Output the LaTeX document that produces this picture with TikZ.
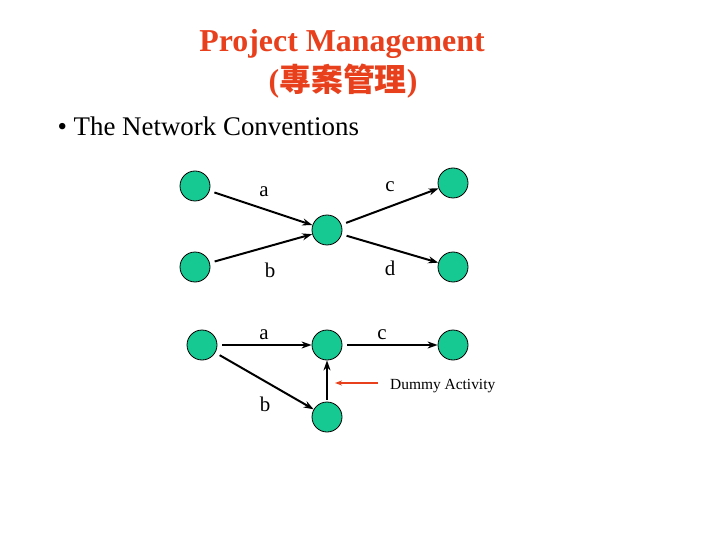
\documentclass[tikz,border=0pt]{standalone}
\usepackage{fontspec}
\setmainfont{Liberation Serif}
\newfontfamily\cjk{Noto Sans CJK TC}
\usetikzlibrary{arrows.meta}
\definecolor{nodegreen}{RGB}{22,200,145}
\definecolor{titlered}{RGB}{232,64,28}
\begin{document}
\begin{tikzpicture}[x=1bp,y=-1bp,
  ev/.style={circle,draw=black,line width=0.8pt,fill=nodegreen,minimum size=30bp,inner sep=0pt},
  act/.style={-{Stealth[length=10bp,width=7bp]},line width=2pt,shorten <=5bp},
  lbl/.style={font=\fontsize{21}{24}\selectfont,inner sep=0pt}]
\useasboundingbox (0,0) rectangle (720,540);
% title
\node[font=\fontsize{32}{36}\selectfont\bfseries,text=titlered] (t1) at (342,44) {Project Management};
\node[font=\fontsize{32}{36}\selectfont\bfseries,text=titlered] (t2) at (343,81) {({\cjk\bfseries 專案管理})};
\node[font=\fontsize{27}{30}\selectfont,anchor=west] (bul) at (54,126) {\textbullet\ The Network Conventions};
% top network
\node[ev] (l1) at (195,186) {};
\node[ev] (l2) at (195,267) {};
\node[ev] (m) at (327,230) {};
\node[ev] (r1) at (453,183) {};
\node[ev] (r2) at (453,267) {};
\draw[act] (l1) -- (m);
\draw[act] (l2) -- (m);
\draw[act] (m) -- (r1);
\draw[act] (m) -- (r2);
\node[lbl] (la) at (264,192) {a};
\node[lbl] (lb) at (270,270) {b};
\node[lbl] (lc) at (390,187) {c};
\node[lbl] (ld) at (390,268) {d};
% bottom network
\node[ev] (n1) at (202,345) {};
\node[ev] (n2) at (327,345) {};
\node[ev] (n3) at (453,345) {};
\node[ev] (n4) at (327,417) {};
\draw[act] (n1) -- (n2);
\draw[act] (n2) -- (n3);
\draw[act] (n1) -- (n4);
\draw[act,shorten <=2bp] (n4) -- (n2);
\node[lbl] (ba) at (264,335) {a};
\node[lbl] (bc) at (382,335) {c};
\node[lbl] (bb) at (265,404) {b};
\coordinate (rs) at (378,383);
\coordinate (re) at (335,383);
\draw[-{Stealth[length=7bp,width=5bp]},line width=1.6pt,draw=titlered] (rs) -- (re);
\node[font=\fontsize{15.5}{18}\selectfont,anchor=west,inner sep=0pt] (dum) at (390,386) {Dummy Activity};
\end{tikzpicture}
\end{document}
